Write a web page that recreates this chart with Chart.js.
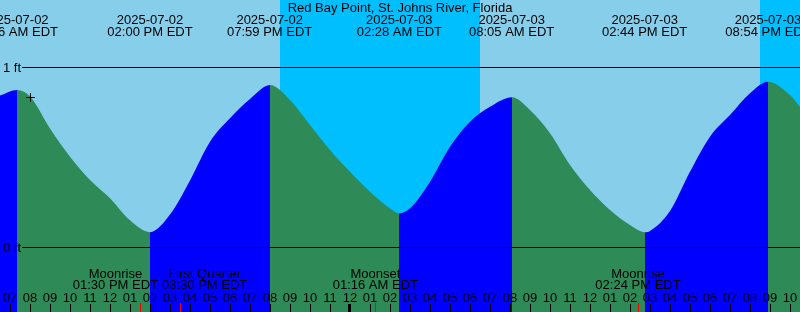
<!DOCTYPE html>
<html>
<head>
<meta charset="utf-8">
<script src="https://cdn.jsdelivr.net/npm/chart.js@4.4.0/dist/chart.umd.min.js"></script>
<style>
  body { margin: 0; background: #87ceeb; }
  canvas { display: block; }
</style>
</head>
<body>
<canvas id="tideChart" width="800" height="312"></canvas>
<script>
// hours counted from 07:00 AM EDT, 2025-07-02
let hours = [-0.5, 0.35, 1, 2, 3, 4, 5, 6, 7, 8, 9, 10, 11, 12, 13,
  14, 15, 16, 17, 18, 19, 19.45, 20, 21, 22, 23, 24, 25.1,
  26, 27, 28, 29, 30, 31, 31.75, 32, 33, 34, 35, 36, 37, 37.9, 39, 39.5];
let heightFt = [0.841, 0.872, 0.836, 0.659, 0.502, 0.372, 0.271, 0.148, 0.082, 0.18, 0.37, 0.585, 0.715, 0.822, 0.900,
  0.817, 0.678, 0.539, 0.418, 0.307, 0.215, 0.187, 0.215, 0.363, 0.557, 0.696, 0.779, 0.832,
  0.761, 0.632, 0.456, 0.317, 0.206, 0.122, 0.082, 0.089, 0.2, 0.418, 0.613, 0.733, 0.854, 0.918, 0.844, 0.779];

// high / low tide events
let eventHours = [0.267, 7, 12.983, 19.467, 25.083, 31.733, 37.9];
let eventDates = ["2025-07-02", "2025-07-02", "2025-07-02", "2025-07-03", "2025-07-03", "2025-07-03", "2025-07-03"];
let eventTimes = ["07:16 AM EDT", "02:00 PM EDT", "07:59 PM EDT", "02:28 AM EDT", "08:05 AM EDT", "02:44 PM EDT", "08:54 PM EDT"];

// moon events
let moonHours = [6.5, 8.5, 18.267, 31.4];
let moonNames = ["Moonrise", "First Quarter", "Moonset", "Moonrise"];
let moonTimes = ["01:30 PM EDT", "03:30 PM EDT", "01:16 AM EDT", "02:24 PM EDT"];

// night periods (sunset -> sunrise)
let sunsetHours = [13.5, 37.5];
let sunriseHours = [23.5, 47.5];

let tickLabels = ["07", "08", "09", "10", "11", "12",
  "01", "02", "03", "04", "05", "06", "07", "08", "09", "10", "11", "12",
  "01", "02", "03", "04", "05", "06", "07", "08", "09", "10", "11", "12",
  "01", "02", "03", "04", "05", "06", "07", "08", "09", "10"];
let midnightTick = 17;
let gridFt = [1, 0];
let nowHour = 1;

const font = '13px "Liberation Sans"';

const tideDecor = {
  id: 'tideDecor',
  beforeDraw(chart) {
    const ctx = chart.ctx;
    const xs = chart.scales.x;
    ctx.save();
    ctx.fillStyle = '#87ceeb';
    ctx.fillRect(0, 0, chart.width, chart.height);
    ctx.fillStyle = '#00bfff';
    for (let i = 0; i < sunsetHours.length; i++) {
      const x0 = Math.round(xs.getPixelForValue(sunsetHours[i]));
      const x1 = Math.round(xs.getPixelForValue(sunriseHours[i]));
      ctx.fillRect(x0, 0, x1 - x0, chart.height);
    }
    ctx.restore();
  },
  afterDatasetsDraw(chart) {
    const ctx = chart.ctx;
    const xs = chart.scales.x;
    const ys = chart.scales.y;
    ctx.save();
    ctx.font = font;
    ctx.fillStyle = '#000';

    // depth lines
    gridFt.forEach(v => {
      const y = Math.round(ys.getPixelForValue(v));
      ctx.fillRect(22, y, chart.width - 22, 1);
      ctx.textAlign = 'left';
      ctx.fillText(v + ' ft', 3, y + 5);
    });

    // title
    ctx.textAlign = 'center';
    ctx.fillText('Red Bay Point, St. Johns River, Florida', 400, 12);

    // tide event labels
    eventHours.forEach((h, i) => {
      const x = xs.getPixelForValue(h);
      ctx.fillText(eventDates[i], x, 24);
      ctx.fillText(eventTimes[i], x, 36);
    });

    // moon labels, pushed apart when they collide
    const centers = moonHours.map(h => xs.getPixelForValue(h));
    const widths = moonNames.map((n, i) => Math.max(ctx.measureText(n).width, ctx.measureText(moonTimes[i]).width));
    for (let i = 0; i < centers.length - 1; i++) {
      const over = (centers[i] + widths[i] / 2 + 4) - (centers[i + 1] - widths[i + 1] / 2);
      if (over > 0) {
        centers[i] -= over / 2;
        centers[i + 1] += over / 2;
      }
    }
    centers.forEach((x, i) => {
      ctx.fillText(moonNames[i], x, 278);
      ctx.fillText(moonTimes[i], x, 289);
    });

    // hour ticks
    tickLabels.forEach((lab, k) => {
      const x = Math.round(xs.getPixelForValue(k));
      ctx.fillText(lab, x, 302);
      if (k === midnightTick) ctx.fillRect(x - 2, 304, 3, 8);
      else ctx.fillRect(x, 304, 1, 8);
    });
    ctx.fillStyle = '#ff0000';
    moonHours.forEach(h => {
      const x = Math.round(xs.getPixelForValue(h));
      ctx.fillRect(x, 303, 1, 9);
    });

    // current time marker
    const idx = hours.indexOf(nowHour);
    const px = Math.round(xs.getPixelForValue(nowHour));
    const py = Math.round(ys.getPixelForValue(heightFt[idx]));
    ctx.fillStyle = '#000';
    ctx.fillRect(px - 4, py, 9, 1);
    ctx.fillRect(px, py - 4, 1, 9);
    ctx.restore();
  }
};

new Chart(document.getElementById('tideChart'), {
  type: 'line',
  data: {
    datasets: [{
      data: hours.map((h, i) => ({ x: h, y: heightFt[i] })),
      fill: 'start',
      borderWidth: 0,
      borderColor: 'rgba(0,0,0,0)',
      backgroundColor: '#2e8b57',
      pointRadius: 0,
      cubicInterpolationMode: 'monotone',
      segment: {
        backgroundColor: c => c.p1.parsed.y > c.p0.parsed.y ? '#0000ff' : '#2e8b57'
      }
    }]
  },
  options: {
    responsive: false,
    animation: false,
    events: [],
    layout: { padding: 0 },
    scales: {
      x: { type: 'linear', min: -0.5, max: 39.5, display: false },
      y: { min: -65 / 180, max: 247 / 180, display: false }
    },
    plugins: { legend: { display: false }, tooltip: { enabled: false } }
  },
  plugins: [tideDecor]
});
</script>
</body>
</html>
